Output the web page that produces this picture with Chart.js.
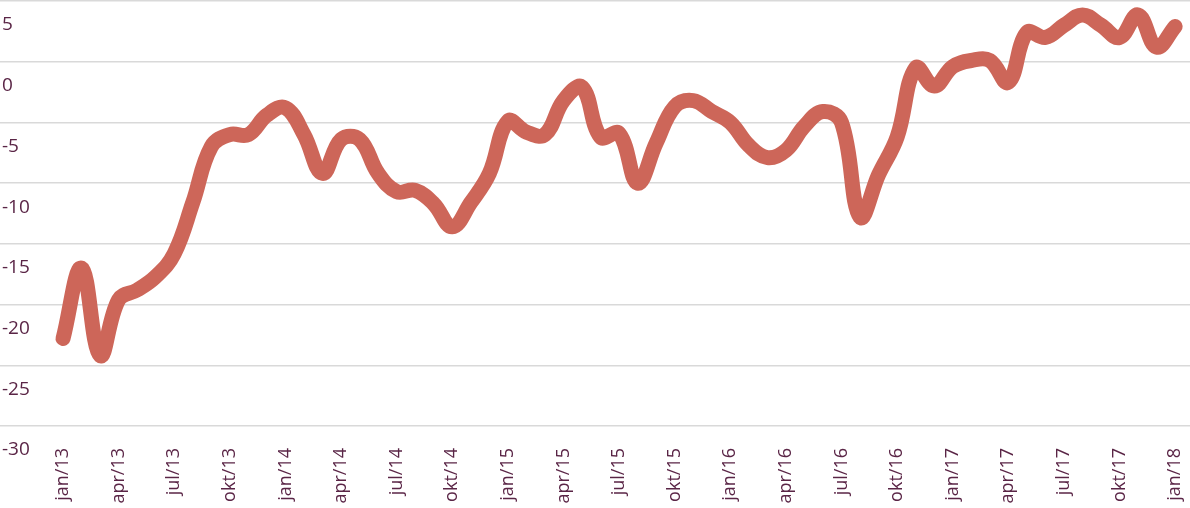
<!DOCTYPE html>
<html>
<head>
<meta charset="utf-8">
<script src="https://cdn.jsdelivr.net/npm/chart.js@4/dist/chart.umd.min.js"></script>
<style>
    body { margin: 0; background: #ffffff; }
    #wrap { width: 1190px; height: 508px; }
</style>
</head>
<body>
<div id="wrap"><canvas id="mainChart" width="1190" height="508"></canvas></div>
<script>
// monthly values, jan/13 .. jan/18
const values = [
    -22.8, -17.0, -24.2, -19.6, -18.8, -17.7, -15.8, -11.6, -7.0, -6.0, -6.0, -4.4,
    -3.8, -6.0, -9.2, -6.4, -6.4, -9.2, -10.7, -10.6, -11.7, -13.6, -11.6, -9.2,
    -4.9, -5.8, -6.0, -3.2, -2.1, -6.2, -5.9, -10.0, -6.7, -3.7, -3.2, -4.1,
    -5.0, -6.9, -7.9, -7.3, -5.3, -4.1, -5.0, -12.8, -9.3, -6.2, -0.5, -2.0,
    -0.4, 0.1, 0.1, -1.7, 2.4, 2.0, 3.0, 3.85, 3.0, 2.0, 3.85, 1.2,
    2.9
];

// one label every third month
const tickLabels = [
    'jan/13', 'apr/13', 'jul/13', 'okt/13',
    'jan/14', 'apr/14', 'jul/14', 'okt/14',
    'jan/15', 'apr/15', 'jul/15', 'okt/15',
    'jan/16', 'apr/16', 'jul/16', 'okt/16',
    'jan/17', 'apr/17', 'jul/17', 'okt/17',
    'jan/18'
];

const yTicks = [-30, -25, -20, -15, -10, -5, 0, 5];

const textColor = '#5a2546';
const fontFamily = "'Open Sans', sans-serif";

document.addEventListener('DOMContentLoaded', function() {
    const ctx = document.getElementById('mainChart').getContext('2d');
    const points = values.map((v, i) => ({ x: i, y: v }));

    new Chart(ctx, {
        type: 'line',
        data: {
            datasets: [{
                data: points,
                borderColor: '#cd6659',
                borderWidth: 15,
                borderCapStyle: 'round',
                borderJoinStyle: 'round',
                pointRadius: 0,
                tension: 0.4,
                fill: false
            }]
        },
        options: {
            responsive: false,
            animation: false,
            layout: { padding: { top: 1, left: 0, right: 0, bottom: 0 } },
            plugins: {
                legend: { display: false },
                tooltip: { enabled: false }
            },
            scales: {
                x: {
                    type: 'linear',
                    min: -3.4,
                    max: 60.8,
                    afterBuildTicks: function(axis) {
                        axis.ticks = tickLabels.map((t, k) => ({ value: k * 3 }));
                    },
                    afterFit: function(axis) {
                        axis.height = 82;
                        axis.paddingLeft = 0;
                        axis.paddingRight = 0;
                    },
                    grid: { display: false, drawTicks: false },
                    border: { display: false },
                    ticks: {
                        autoSkip: false,
                        minRotation: 90,
                        maxRotation: 90,
                        padding: 22,
                        color: textColor,
                        font: { family: fontFamily, size: 18 },
                        callback: function(value) {
                            return tickLabels[Math.round(value / 3)];
                        }
                    }
                },
                y: {
                    min: -30,
                    max: 5,
                    afterBuildTicks: function(axis) {
                        axis.ticks = yTicks.map(v => ({ value: v }));
                    },
                    afterFit: function(axis) {
                        axis.width = 0;
                        axis.paddingTop = 0;
                        axis.paddingBottom = 0;
                    },
                    grid: { color: '#d9d9d9', lineWidth: 1.5, drawTicks: false },
                    border: { display: false },
                    ticks: {
                        mirror: true,
                        padding: 2,
                        labelOffset: 24,
                        color: textColor,
                        font: { family: fontFamily, size: 19 },
                        callback: function(value) {
                            return String(value);
                        }
                    }
                }
            }
        }
    });
});
</script>
</body>
</html>
